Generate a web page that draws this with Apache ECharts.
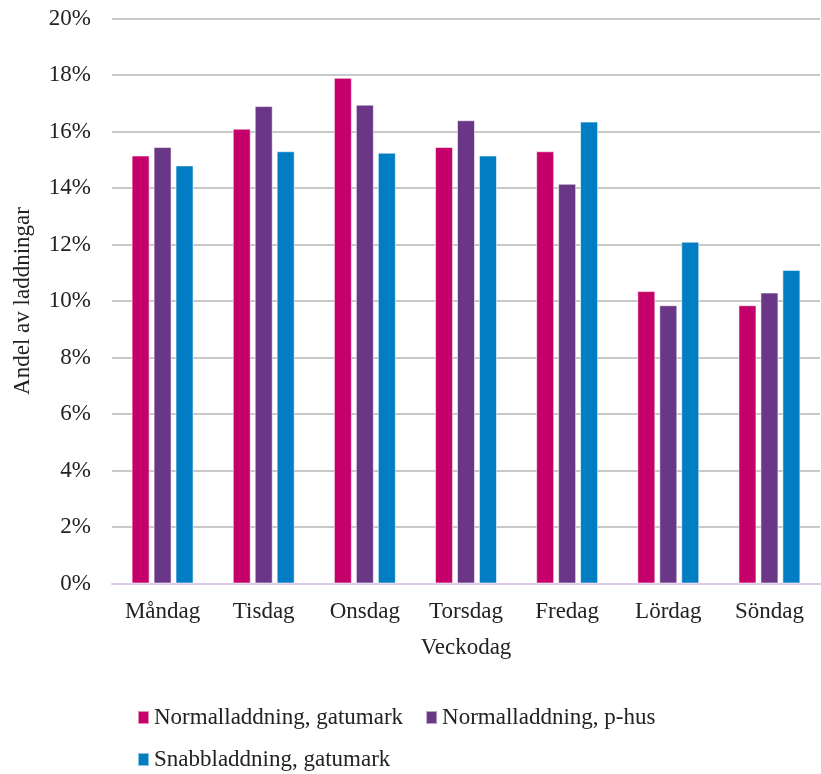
<!DOCTYPE html>
<html>
<head>
<meta charset="utf-8">
<script src="https://cdn.jsdelivr.net/npm/echarts@6/dist/echarts.min.js"></script>
<style>
  html, body { margin: 0; padding: 0; background: #fff; }
  #chart { width: 821px; height: 774px; }
</style>
</head>
<body>
<div id="chart"></div>
<script>
// Andel laddningar per veckodag (%)
const days = ['Måndag', 'Tisdag', 'Onsdag', 'Torsdag', 'Fredag', 'Lördag', 'Söndag'];
const normalGatumark = [15.15, 16.1, 17.9, 15.45, 15.3, 10.35, 9.85];
const normalPhus = [15.45, 16.9, 16.95, 16.4, 14.15, 9.85, 10.3];
const snabbGatumark = [14.8, 15.3, 15.25, 15.15, 16.35, 12.1, 11.1];
const seriesNames = ['Normalladdning, gatumark', 'Normalladdning, p-hus', 'Snabbladdning, gatumark'];
const yTicks = { min: 0, max: 20, interval: 2 };

const FONT = '"Liberation Serif", "Times New Roman", serif';
const FS = 23;
const colors = ['#C5006A', '#6A3787', '#007DC3'];
const values = [normalGatumark, normalPhus, snabbGatumark];

const legendText = { fontFamily: FONT, fontSize: FS, color: '#222' };

const chart = echarts.init(document.getElementById('chart'), null, { renderer: 'canvas' });
chart.setOption({
  animation: false,
  backgroundColor: '#fff',
  color: colors,
  grid: { left: 112, right: 1, top: 18.5, bottom: 190.5, containLabel: false },
  legend: [
    {
      data: seriesNames.slice(0, 2),
      left: 137, top: 706,
      itemWidth: 11, itemHeight: 13, itemGap: 22,
      icon: 'rect',
      textStyle: legendText,
      padding: 0
    },
    {
      data: seriesNames.slice(2),
      left: 137, top: 748,
      itemWidth: 11, itemHeight: 13,
      icon: 'rect',
      textStyle: legendText,
      padding: 0
    }
  ],
  xAxis: {
    type: 'category',
    data: days,
    name: 'Veckodag',
    nameLocation: 'middle',
    nameGap: 53,
    nameTextStyle: { fontFamily: FONT, fontSize: FS, color: '#222' },
    axisLine: { lineStyle: { color: '#DCC8E8', width: 2 } },
    axisTick: { show: false },
    axisLabel: { fontFamily: FONT, fontSize: FS, color: '#222', margin: 17 }
  },
  yAxis: {
    type: 'value',
    min: yTicks.min, max: yTicks.max, interval: yTicks.interval,
    name: 'Andel av laddningar',
    nameLocation: 'middle',
    nameGap: 78,
    nameTextStyle: { fontFamily: FONT, fontSize: FS, color: '#222' },
    axisLine: { show: false },
    axisTick: { show: false },
    axisLabel: { fontFamily: FONT, fontSize: FS, color: '#222', margin: 21, formatter: v => v + '%' },
    splitLine: { lineStyle: { color: '#C8C8C8', width: 2 } }
  },
  series: values.map((vals, i) => ({
    name: seriesNames[i],
    type: 'bar',
    data: vals,
    barWidth: 18,
    barGap: '22%',
    itemStyle: { color: colors[i], borderColor: 'rgba(255,255,255,0.55)', borderWidth: 1 }
  }))
});
</script>
</body>
</html>
